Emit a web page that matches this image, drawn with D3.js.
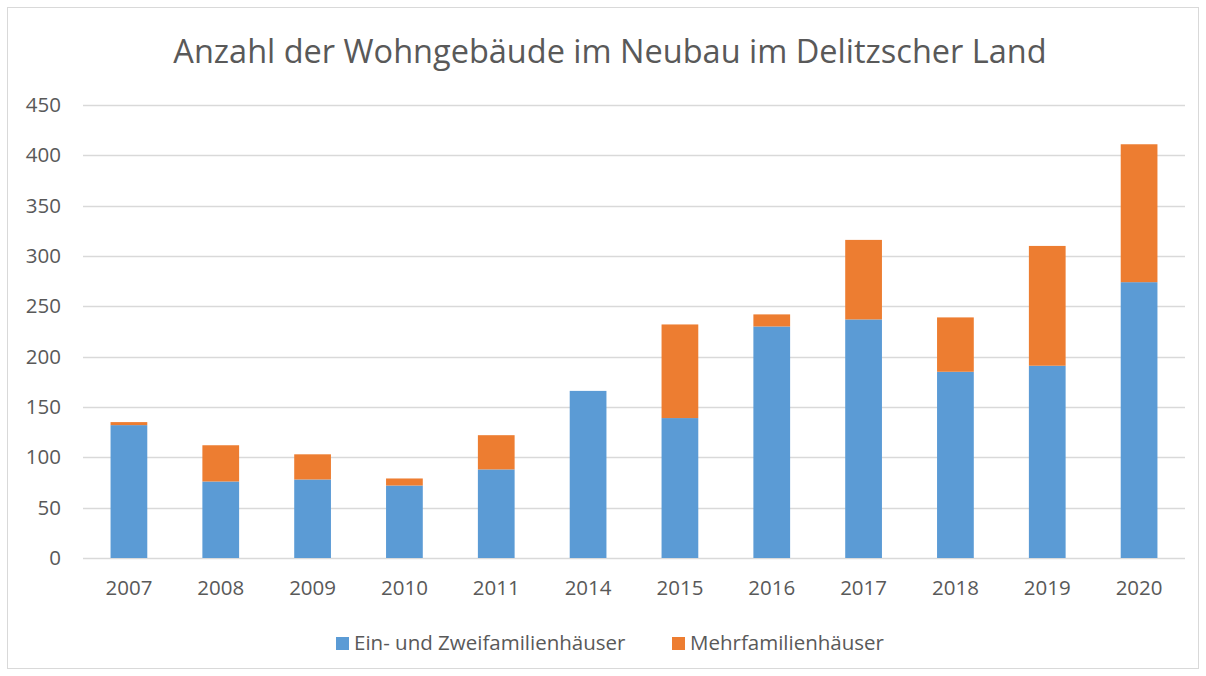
<!DOCTYPE html>
<html>
<head>
<meta charset="utf-8">
<script src="https://cdn.jsdelivr.net/npm/d3@7"></script>
<style>
  body { margin: 0; background: #fff; }
  text { font-family: "Open Sans", "Noto Sans", sans-serif; fill: #595959; }
</style>
</head>
<body>
<div id="chart-area"></div>
<script>
// data
var years = ["2007", "2008", "2009", "2010", "2011", "2014", "2015", "2016", "2017", "2018", "2019", "2020"];
var einZwei = [132, 76, 78, 72, 88, 166, 139, 230, 237, 185, 191, 274];
var mehr = [3, 36, 25, 7, 34, 0, 93, 12, 79, 54, 119, 137];
var seriesNames = ["Ein- und Zweifamilienhäuser", "Mehrfamilienhäuser"];
var yTicks = [0, 50, 100, 150, 200, 250, 300, 350, 400, 450];

var W = 1206, H = 676;
var margin = {top: 105, right: 21, bottom: 118, left: 83},
  width = W - margin.left - margin.right,
  height = H - margin.top - margin.bottom;

var svg = d3.select("#chart-area")
  .append("svg")
  .attr("width", W)
  .attr("height", H);

// outer frame
svg.append("rect")
  .attr("x", 7.5).attr("y", 7.5)
  .attr("width", W - 15).attr("height", H - 15)
  .attr("fill", "#fff")
  .attr("stroke", "#d9d9d9");

svg.append("text")
  .attr("x", 610)
  .attr("y", 63)
  .attr("text-anchor", "middle")
  .style("font-size", "32.5px")
  .text("Anzahl der Wohngebäude im Neubau im Delitzscher Land");

var g = svg.append("g")
  .attr("transform", "translate(" + margin.left + "," + margin.top + ")");

var x = d3.scaleBand()
  .domain(years)
  .range([0, width])
  .paddingInner(0.6)
  .paddingOuter(0.3);

var y = d3.scaleLinear()
  .domain([0, 450])
  .range([height, 0]);

// gridlines
g.append("g")
  .selectAll("line")
  .data(yTicks)
  .enter()
  .append("line")
  .attr("x1", 0)
  .attr("x2", width)
  .attr("y1", function(d) { return Math.round(y(d)) + 0.5; })
  .attr("y2", function(d) { return Math.round(y(d)) + 0.5; })
  .attr("stroke", "#d9d9d9")
  .attr("stroke-width", 1.5);

var yAxis = g.append("g")
  .call(d3.axisLeft(y).tickValues(yTicks).tickSize(0).tickPadding(22));
yAxis.select(".domain").remove();
yAxis.selectAll("text").style("font-size", "20.5px").attr("fill", "#595959");

var xAxis = g.append("g")
  .attr("transform", "translate(0," + height + ")")
  .call(d3.axisBottom(x).tickSize(0).tickPadding(22));
xAxis.select(".domain").remove();
xAxis.selectAll("text").style("font-size", "20.5px").attr("fill", "#595959");

// stacked bars
var rows = years.map(function(yr, i) {
  return {year: yr, a: einZwei[i], b: mehr[i]};
});
var stack = d3.stack().keys(["a", "b"]);
var colors = ["#5b9bd5", "#ed7d31"];

g.selectAll("g.series")
  .data(stack(rows))
  .enter()
  .append("g")
  .attr("class", "series")
  .attr("fill", function(d, i) { return colors[i]; })
  .selectAll("rect")
  .data(function(d) { return d; })
  .enter()
  .append("rect")
  .attr("x", function(d) { return x(d.data.year); })
  .attr("y", function(d) { return y(d[1]); })
  .attr("width", x.bandwidth())
  .attr("height", function(d) { return y(d[0]) - y(d[1]); });

// legend
var legend = svg.append("g").attr("transform", "translate(0,643)");
var legX = [336, 672];
seriesNames.forEach(function(name, i) {
  legend.append("rect")
    .attr("x", legX[i]).attr("y", -6)
    .attr("width", 13).attr("height", 13)
    .attr("fill", colors[i]);
  legend.append("text")
    .attr("x", legX[i] + 18)
    .attr("y", 0)
    .attr("dy", "0.35em")
    .style("font-size", "20.5px")
    .text(name);
});
</script>
</body>
</html>
